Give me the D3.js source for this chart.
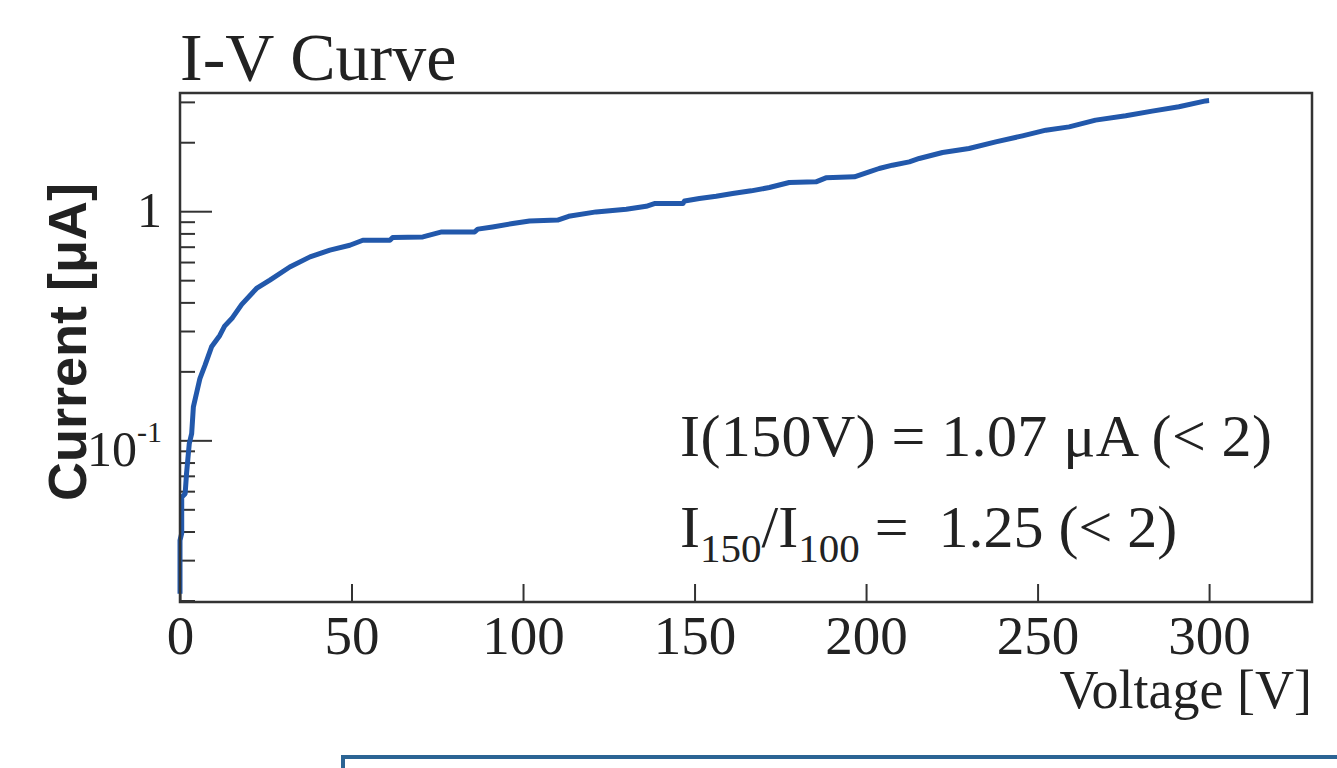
<!DOCTYPE html>
<html>
<head>
<meta charset="utf-8">
<script src="https://cdn.jsdelivr.net/npm/d3@7"></script>
<style>
    body { margin: 0; background: #fff; }
    svg { display: block; }
</style>
</head>
<body>
<div id="chart"></div>
<script>
// I-V scan (voltage in V, current in uA)
const voltage = [0, 0, 0.5, 0.5, 1.5, 1.9, 2.7, 3.4, 3.9, 5.0, 5.8, 7.3, 9.2, 11.6, 13.0, 15.3, 18.0,
    22.3, 26.2, 32.0, 37.9, 43.7, 49.5, 53.3, 61.2, 62.0, 70.8, 76.3, 85.9, 86.8, 91.1, 97.0,
    101.9, 110.1, 113.3, 121.3, 130.1, 135.9, 138.3, 146.6, 147.1, 151.4, 156.3, 161.1, 166.5,
    171.8, 177.6, 185.4, 188.3, 196.6, 200.9, 203.8, 207.7, 212.6, 215.5, 222.3, 230.0, 237.8,
    245.6, 252.4, 259.2, 266.9, 275.7, 283.4, 291.2, 299.0, 300.0];
const current = [0.0214, 0.0366, 0.0393, 0.0565, 0.0585, 0.0715, 0.0967, 0.107, 0.140, 0.165, 0.186,
    0.213, 0.256, 0.287, 0.315, 0.343, 0.392, 0.460, 0.500, 0.571, 0.632, 0.676, 0.710, 0.747,
    0.747, 0.768, 0.772, 0.812, 0.812, 0.835, 0.854, 0.884, 0.907, 0.915, 0.950, 0.993, 1.02,
    1.051, 1.08, 1.08, 1.109, 1.136, 1.163, 1.195, 1.227, 1.269, 1.335, 1.343, 1.398, 1.412,
    1.484, 1.536, 1.588, 1.642, 1.699, 1.804, 1.878, 2.007, 2.133, 2.258, 2.334, 2.497, 2.608,
    2.733, 2.855, 3.03, 3.04];

const xTicks = [0, 50, 100, 150, 200, 250, 300];
const yMajorTicks = [0.1, 1];
const yMinorTicks = [0.02, 0.03, 0.04, 0.05, 0.06, 0.07, 0.08, 0.09,
    0.2, 0.3, 0.4, 0.5, 0.6, 0.7, 0.8, 0.9, 2, 3];
const xDomain = [0, 330];
const yDomain = [0.0197, 3.28];

const titleText = "I-V Curve";
const xLabel = "Voltage [V]";
const yLabel = "Current [\u03bcA]";

const data = voltage.map((v, i) => ({ v: v, i: current[i] }));

const W = 1337, H = 768;
const margin = { top: 93, right: 25, bottom: 166, left: 180 };
const width = W - margin.left - margin.right;
const height = H - margin.top - margin.bottom;

const serif = "'Liberation Serif', 'Times New Roman', serif";
const sans = "'Liberation Sans', Arial, sans-serif";

const svg = d3.select("#chart")
    .append("svg")
    .attr("width", W)
    .attr("height", H);

svg.append("rect")
    .attr("width", W)
    .attr("height", H)
    .attr("fill", "#fff");

const chart = svg.append("g")
    .attr("transform", `translate(${margin.left},${margin.top})`);

const x = d3.scaleLinear()
    .domain(xDomain)
    .range([0, width]);

const y = d3.scaleLog()
    .domain(yDomain)
    .range([height, 0]);

// ticks point into the frame, like ROOT
const xAxis = d3.axisBottom(x)
    .tickValues(xTicks)
    .tickSizeInner(-18)
    .tickSizeOuter(0)
    .tickPadding(13)
    .tickFormat(d3.format("d"));

const gx = chart.append("g")
    .attr("transform", `translate(0,${height})`)
    .call(xAxis);

gx.select(".domain").remove();
gx.selectAll(".tick line")
    .attr("stroke", "#333")
    .attr("stroke-width", 2);
gx.selectAll(".tick text")
    .style("font-family", serif)
    .style("font-size", "55px")
    .attr("fill", "#222");

const yMinor = d3.axisLeft(y)
    .tickValues(yMinorTicks)
    .tickSizeInner(-15)
    .tickSizeOuter(0)
    .tickFormat("");

const gyMinor = chart.append("g").call(yMinor);
gyMinor.select(".domain").remove();
gyMinor.selectAll(".tick line")
    .attr("stroke", "#333")
    .attr("stroke-width", 2);

const yAxis = d3.axisLeft(y)
    .tickValues(yMajorTicks)
    .tickSizeInner(-32)
    .tickSizeOuter(0)
    .tickFormat("");

const gy = chart.append("g").call(yAxis);
gy.select(".domain").remove();
gy.selectAll(".tick line")
    .attr("stroke", "#333")
    .attr("stroke-width", 2);

// major labels: "1" and "10^-1"
gy.selectAll(".tick").each(function(d) {
    const t = d3.select(this).append("text")
        .attr("x", -18)
        .attr("text-anchor", "end")
        .attr("fill", "#222")
        .style("font-family", serif)
        .style("font-size", "50px");
    if (d === 1) {
        t.attr("y", 15).text("1");
    } else {
        t.attr("y", 25);
        t.append("tspan").text("10");
        t.append("tspan")
            .attr("dy", -24)
            .style("font-size", "30px")
            .text("-1");
    }
});

chart.append("path")
    .datum(data)
    .attr("fill", "none")
    .attr("stroke", "#2258ab")
    .attr("stroke-width", 5)
    .attr("stroke-linejoin", "round")
    .attr("d", d3.line()
        .x(d => x(d.v))
        .y(d => y(d.i)));

chart.append("rect")
    .attr("x", 0)
    .attr("y", 0)
    .attr("width", width)
    .attr("height", height)
    .attr("fill", "none")
    .attr("stroke", "#333")
    .attr("stroke-width", 2.5);

svg.append("text")
    .attr("x", 180)
    .attr("y", 80)
    .attr("fill", "#222")
    .style("font-family", serif)
    .style("font-size", "68px")
    .text(titleText);

svg.append("text")
    .attr("x", 1312)
    .attr("y", 708)
    .attr("text-anchor", "end")
    .attr("fill", "#222")
    .style("font-family", serif)
    .style("font-size", "54px")
    .text(xLabel);

svg.append("text")
    .attr("transform", "translate(86,342) rotate(-90)")
    .attr("text-anchor", "middle")
    .attr("fill", "#222")
    .style("font-family", sans)
    .style("font-weight", "700")
    .style("font-size", "54px")
    .text(yLabel);

// result boxes
svg.append("text")
    .attr("x", 680)
    .attr("y", 456)
    .attr("fill", "#222")
    .style("font-family", serif)
    .style("font-size", "60px")
    .attr("textLength", 592)
    .attr("lengthAdjust", "spacing")
    .text("I(150V) = 1.07 \u03bcA (< 2)");

const ratio = svg.append("text")
    .attr("x", 680)
    .attr("y", 547)
    .attr("fill", "#222")
    .style("font-family", serif)
    .style("font-size", "60px");
ratio.append("tspan").text("I");
ratio.append("tspan").attr("dy", 15).style("font-size", "41px").text("150");
ratio.append("tspan").attr("dy", -15).text("/I");
ratio.append("tspan").attr("dy", 15).style("font-size", "41px").text("100");
ratio.append("tspan").attr("dy", -15).attr("xml:space", "preserve").text(" =  1.25 (< 2)");

svg.append("rect")
    .attr("x", 343)
    .attr("y", 757)
    .attr("width", 1100)
    .attr("height", 100)
    .attr("fill", "none")
    .attr("stroke", "#2b6494")
    .attr("stroke-width", 4);
</script>
</body>
</html>
